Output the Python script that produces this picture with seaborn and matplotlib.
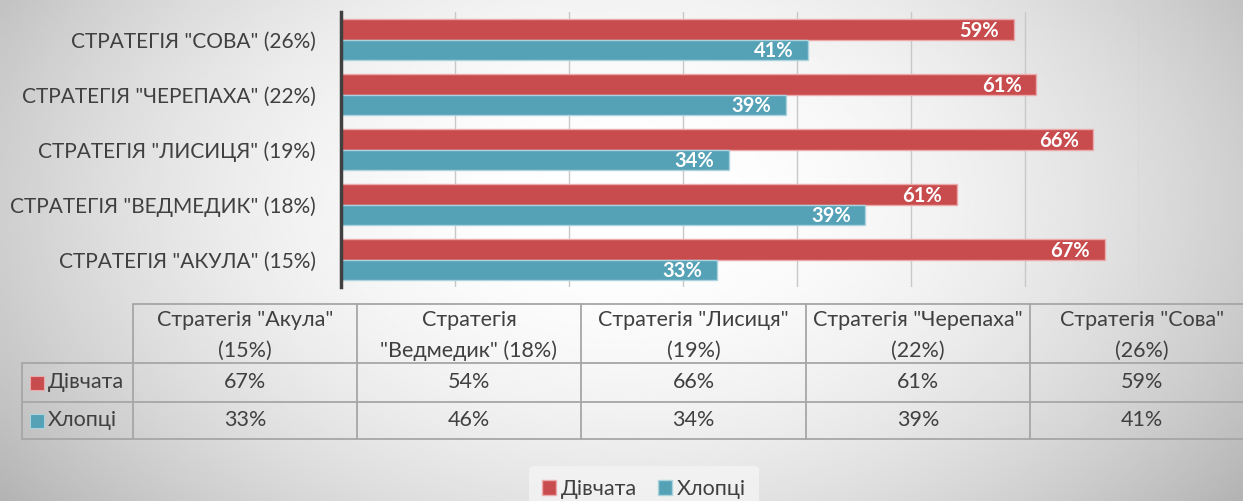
import numpy as np
import pandas as pd
import seaborn as sns
import matplotlib
matplotlib.use("Agg", force=True)
import matplotlib.pyplot as plt
from matplotlib.patches import Patch

# data, in table order (left to right)
strategies = ["Акула", "Ведмедик", "Лисиця", "Черепаха", "Сова"]
strategy_share = [15, 18, 19, 22, 26]
girls = [67, 54, 66, 61, 59]
boys = [33, 46, 34, 39, 41]
# data labels as they are printed on the bars
girls_labels = ["67%", "61%", "66%", "61%", "59%"]
boys_labels = ["33%", "39%", "34%", "39%", "41%"]
series = ["Дівчата", "Хлопці"]

RED = "#C84C4E"
TEAL = "#55A1B6"
RED_EDGE = "#EBA9AA"
TEAL_EDGE = "#ABD3DE"
TXT = "#404040"
GRID = "#A6A6A6"
FS = 15.5

sns.set_theme(style="white")
plt.rcParams["font.family"] = ["Lato", "DejaVu Sans"]

axis_labels = [f'СТРАТЕГІЯ "{s.upper()}" ({p}%)' for s, p in zip(strategies, strategy_share)]
df = pd.DataFrame({
    "strategy": axis_labels * 2,
    "group": [series[0]] * 5 + [series[1]] * 5,
    "share": girls + boys,
})
order = axis_labels[::-1]

W, H = 1243, 501
fig = plt.figure(figsize=(W / 100, H / 100), dpi=100)

# background gradient
bg = fig.add_axes([0, 0, 1, 1], zorder=-2)
xx, yy = np.meshgrid(np.linspace(0, 1, 400), np.linspace(0, 1, 200))
d2 = ((xx - 0.5) / 0.5) ** 2 + ((yy - 0.4) / 0.8) ** 2
grad = np.clip(1 - 0.19 * d2, 0, 1)
bg.imshow(grad, cmap="gray", vmin=0, vmax=1, aspect="auto", extent=[0, 1, 1, 0])
bg.axis("off")

ax = fig.add_axes([341 / W, 1 - 287 / H, 798 / W, 275 / H])
ax.patch.set_alpha(0)
sns.barplot(data=df, y="strategy", x="share", hue="group", order=order,
            hue_order=series, palette=[RED, TEAL], saturation=1, width=0.75, gap=0,
            orient="h", legend=False, ax=ax, linewidth=1)
for cont, ec in zip(ax.containers, [RED_EDGE, TEAL_EDGE]):
    for bar in cont:
        bar.set_edgecolor(ec)

for cont, labels in zip(ax.containers, [girls_labels[::-1], boys_labels[::-1]]):
    for bar, txt in zip(cont, labels):
        ax.annotate(txt, (bar.get_width(), bar.get_y() + bar.get_height() / 2),
                    xytext=(-10.5, -1), textcoords="offset points", ha="right",
                    va="center", color="white", fontsize=14.5, fontweight="bold")

ax.set_xlim(0, 70)
ax.set_xticks(range(10, 71, 10))
ax.set_xticklabels([])
ax.xaxis.grid(True, color="#C8C8C8", linewidth=1)
ax.set_axisbelow(True)
ax.set_xlabel("")
ax.set_ylabel("")
for s in ["top", "right", "bottom"]:
    ax.spines[s].set_visible(False)
ax.spines["left"].set_color(TXT)
ax.spines["left"].set_linewidth(2.5)
ax.tick_params(axis="y", length=0, pad=18, labelsize=15, labelcolor=TXT)
ax.tick_params(axis="x", length=0)

# data table under the chart
ov = fig.add_axes([0, 0, 1, 1], zorder=3)
ov.set_xlim(0, W)
ov.set_ylim(H, 0)
ov.axis("off")
ov.patch.set_alpha(0)

col_edges = [133, 357, 581, 806, 1030, 1254]
row_edges = [304, 363, 402, 439]
lw = 1.3
ov.plot([col_edges[0], W], [row_edges[0]] * 2, color=GRID, lw=lw)
for y in row_edges[1:]:
    ov.plot([22, W], [y, y], color=GRID, lw=lw)
ov.plot([22, 22], [row_edges[1], row_edges[3]], color=GRID, lw=lw)
for x in col_edges[:-1]:
    ov.plot([x, x], [row_edges[0], row_edges[3]], color=GRID, lw=lw)

centers = [(a + b) / 2 for a, b in zip(col_edges[:-1], col_edges[1:])]
headers = [f'Стратегія "{s}"\n({p}%)' for s, p in zip(strategies, strategy_share)]
headers[1] = f'Стратегія\n"{strategies[1]}" ({strategy_share[1]}%)'
for cx, h in zip(centers, headers):
    ov.text(cx, (row_edges[0] + row_edges[1]) / 2 + 2, h, ha="center", va="center",
            fontsize=FS, color=TXT, linespacing=1.65)
row_y = [(row_edges[1] + row_edges[2]) / 2, (row_edges[2] + row_edges[3]) / 2]
for ry, vals in zip(row_y, [girls, boys]):
    for cx, v in zip(centers, vals):
        ov.text(cx, ry, f"{v}%", ha="center", va="center", fontsize=FS, color=TXT)
for ry, name, c, ec in zip(row_y, series, [RED, TEAL], [RED_EDGE, TEAL_EDGE]):
    ov.scatter([37], [ry], marker="s", s=95, color=c, edgecolors=ec, linewidths=0.8)
    ov.text(48, ry, name, ha="left", va="center", fontsize=FS, color=TXT)

handles = [Patch(facecolor=RED, edgecolor=RED_EDGE, label=series[0]),
           Patch(facecolor=TEAL, edgecolor=TEAL_EDGE, label=series[1])]
leg = fig.legend(handles=handles, loc="center", bbox_to_anchor=(644 / W, 1 - 489 / H),
                 ncol=2, frameon=True, fontsize=FS, handlelength=0.65, handleheight=0.65,
                 handletextpad=0.2, columnspacing=1.0, borderpad=0.6)
leg.get_frame().set_facecolor("#F4F4F4")
leg.get_frame().set_edgecolor("none")
for t in leg.get_texts():
    t.set_color(TXT)

fig.savefig("out.png", dpi=100)
